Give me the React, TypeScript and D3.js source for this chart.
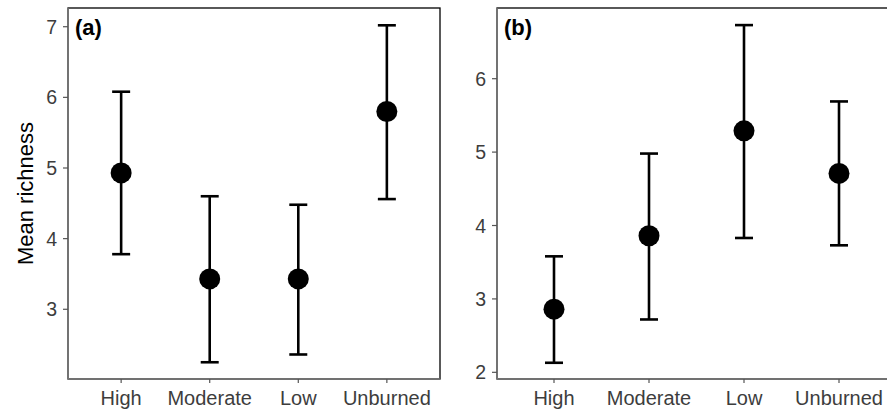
import React from "react";
import * as d3 from "d3";

const categories = ["High", "Moderate", "Low", "Unburned"];

const meanA = [4.93, 3.43, 3.43, 5.8];
const lowerA = [3.78, 2.25, 2.36, 4.56];
const upperA = [6.08, 4.6, 4.48, 7.02];

const meanB = [2.86, 3.86, 5.29, 4.71];
const lowerB = [2.13, 2.72, 3.83, 3.73];
const upperB = [3.58, 4.98, 6.73, 5.69];

const ticksA = [3, 4, 5, 6, 7];
const ticksB = [2, 3, 4, 5, 6];

const panelLabels = ["(a)", "(b)"];
const yTitle = "Mean richness";

const FONT = "'Liberation Sans', Arial, Helvetica, sans-serif";

type PanelProps = {
  x0: number;
  x1: number;
  y0: number;
  y1: number;
  domain: [number, number];
  ticks: number[];
  mean: number[];
  lower: number[];
  upper: number[];
  label: string;
};

function Panel({ x0, x1, y0, y1, domain, ticks, mean, lower, upper, label }: PanelProps) {
  const x = d3.scalePoint<string>().domain(categories).range([x0, x1]).padding(0.6);
  const y = d3.scaleLinear().domain(domain).range([y1, y0]);
  const capHalf = 9;
  return (
    <g>
      <rect x={x0} y={y0} width={x1 - x0} height={y1 - y0} fill="white" stroke="black" strokeWidth={1.3} />
      <line x1={x0} x2={x0} y1={y0} y2={y1} stroke="#7a7a7a" strokeWidth={1.6} />
      <line x1={x0} x2={x1} y1={y1} y2={y1} stroke="#7a7a7a" strokeWidth={1.6} />
      {ticks.map((t) => (
        <g key={t}>
          <line x1={x0 - 5} x2={x0} y1={y(t)} y2={y(t)} stroke="#555" strokeWidth={1.2} />
          <text x={x0 - 11} y={y(t)} dy="0.36em" textAnchor="end" fontSize={19.5} fill="#3d3d3d" fontFamily={FONT}>
            {t}
          </text>
        </g>
      ))}
      {categories.map((c) => (
        <g key={c}>
          <line x1={x(c)!} x2={x(c)!} y1={y1} y2={y1 + 4} stroke="#555" strokeWidth={1.2} />
          <text x={x(c)!} y={y1 + 26} textAnchor="middle" fontSize={20} fill="#3d3d3d" fontFamily={FONT}>
            {c}
          </text>
        </g>
      ))}
      {categories.map((c, i) => {
        const cx = x(c)!;
        return (
          <g key={"e" + c}>
            <line x1={cx} x2={cx} y1={y(upper[i])} y2={y(lower[i])} stroke="black" strokeWidth={2.6} />
            <line x1={cx - capHalf} x2={cx + capHalf} y1={y(upper[i])} y2={y(upper[i])} stroke="black" strokeWidth={2.6} />
            <line x1={cx - capHalf} x2={cx + capHalf} y1={y(lower[i])} y2={y(lower[i])} stroke="black" strokeWidth={2.6} />
            <circle cx={cx} cy={y(mean[i])} r={10.5} fill="black" />
          </g>
        );
      })}
      <text x={x0 + 7} y={y0 + 27} fontSize={22} fontWeight="bold" fill="black" fontFamily={FONT}>
        {label}
      </text>
    </g>
  );
}

export default function App() {
  const top = 8;
  const bottom = 379;
  return (
    <svg width={887} height={412} style={{ position: "absolute", left: 0, top: 0, background: "white" }}>
      <rect x={0} y={0} width={887} height={412} fill="white" />
      <text
        transform={`translate(33, ${(top + bottom) / 2}) rotate(-90)`}
        textAnchor="middle"
        fontSize={22}
        fill="black"
        fontFamily={FONT}
      >
        {yTitle}
      </text>
      <Panel x0={68} x1={440} y0={top} y1={bottom} domain={[2.013, 7.265]} ticks={ticksA} mean={meanA} lower={lowerA} upper={upperA} label={panelLabels[0]} />
      <Panel x0={497} x1={896} y0={top} y1={bottom} domain={[1.909, 6.963]} ticks={ticksB} mean={meanB} lower={lowerB} upper={upperB} label={panelLabels[1]} />
    </svg>
  );
}
